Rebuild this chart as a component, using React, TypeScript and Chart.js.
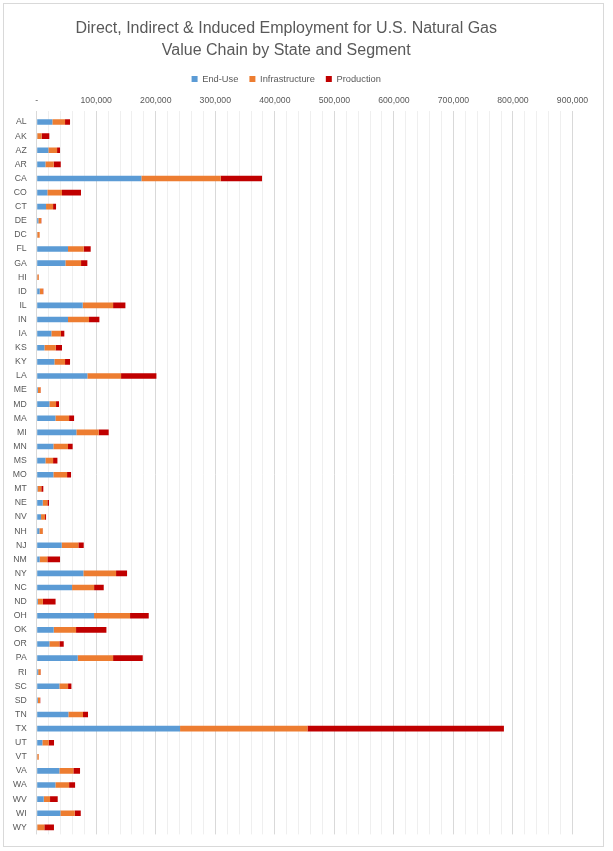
import React, { useEffect, useRef } from "react";
import { Chart, registerables } from "chart.js";

Chart.register(...registerables);

const states = ["AL","AK","AZ","AR","CA","CO","CT","DE","DC","FL","GA","HI","ID","IL","IN","IA","KS","KY","LA","ME","MD","MA","MI","MN","MS","MO","MT","NE","NV","NH","NJ","NM","NY","NC","ND","OH","OK","OR","PA","RI","SC","SD","TN","TX","UT","VT","VA","WA","WV","WI","WY"];

const endUse = [26300,1000,19600,14600,175800,17900,15700,2800,1000,52600,48200,1000,5000,77300,52600,24600,12900,29700,85100,2000,21300,31400,66600,28000,14600,28000,1500,10100,7300,4500,42000,5000,78400,59400,2000,96300,28600,21300,68900,2500,38100,2000,53200,240800,9500,1000,38100,31400,11800,39800,1000];

const infrastructure = [21300,7300,14600,14000,133300,24600,11800,4500,4000,26300,26300,2500,5600,51000,35300,16200,19000,17900,56600,4500,11200,23000,37500,24600,12900,23000,6200,7800,6700,5600,28000,12900,54900,37000,8400,60500,37500,16800,59400,4000,14600,3500,24600,214000,10600,2500,23500,23000,10600,24100,11800];

const production = [8400,12900,5000,11800,69400,31900,5000,500,0,11800,10600,300,500,20700,17400,5600,10600,8400,59400,500,5000,8400,16800,7800,7300,6700,3400,2800,1700,500,9000,21300,18500,16200,21300,31400,51000,7300,49800,500,5600,500,8400,330000,9000,0,11200,10100,12900,10100,16200];

const titleLines = ["Direct, Indirect & Induced Employment for U.S. Natural Gas", "Value Chain by State and Segment"];
const seriesNames = ["End-Use", "Infrastructure", "Production"];
const seriesColors = ["#5B9BD5", "#ED7D31", "#C00000"];

const FONT = "'Liberation Sans', Arial, sans-serif";
const TEXT = "#595959";

const borderPlugin = {
  id: "outerBorder",
  afterDraw(chart: any) {
    const ctx = chart.ctx;
    ctx.save();
    ctx.strokeStyle = "#d9d9d9";
    ctx.lineWidth = 1;
    ctx.strokeRect(3.5, 3.5, 600, 843);
    ctx.restore();
  },
  beforeDraw(chart: any) {
    const ctx = chart.ctx;
    ctx.save();
    ctx.fillStyle = "#ffffff";
    ctx.fillRect(0, 0, chart.width, chart.height);
    ctx.restore();
  },
};

export default function App() {
  const ref = useRef<HTMLCanvasElement>(null);
  useEffect(() => {
    document.body.style.margin = "0";
    const series = [endUse, infrastructure, production];
    const chart = new Chart(ref.current!, {
      type: "bar",
      data: {
        labels: states,
        datasets: series.map((d, i) => ({
          label: seriesNames[i],
          data: d,
          backgroundColor: seriesColors[i],
          borderWidth: 0,
          categoryPercentage: 0.8,
          barPercentage: 0.5,
        })),
      },
      options: {
        indexAxis: "y",
        responsive: false,
        animation: false,
        layout: { padding: { top: 10, bottom: 16.6, left: 0, right: 40.5 } },
        plugins: {
          title: {
            display: true,
            text: titleLines,
            color: TEXT,
            font: { family: FONT, size: 16, weight: "normal", lineHeight: 1.375 },
            padding: { top: 7.7, bottom: 1.65 },
          },
          legend: {
            display: true,
            position: "top",
            labels: {
              color: TEXT,
              font: { family: FONT, size: 9.3 },
              boxWidth: 6,
              boxHeight: 6,
              padding: 11,
            },
          },
          tooltip: { enabled: false },
        },
        scales: {
          x: {
            type: "linear",
            position: "top",
            stacked: true,
            min: 0,
            max: 900000,
            border: { display: false },
            grid: {
              drawTicks: true,
              tickLength: 4,
              color: (c: any) => (c.tick && c.tick.value % 100000 === 0 ? "#d9d9d9" : "#efefef"),
              lineWidth: 1,
            },
            ticks: {
              stepSize: 20000,
              autoSkip: false,
              maxRotation: 0,
              padding: 4.8,
              color: TEXT,
              font: { family: FONT, size: 8.7 },
              callback: (v: any) => {
                const n = Number(v);
                if (n % 100000 !== 0) return "";
                return n === 0 ? "-" : n.toLocaleString("en-US");
              },
            },
            afterFit: (s: any) => {
              s.height = 21.35;
            },
          },
          y: {
            stacked: true,
            border: { display: false },
            grid: { display: false, drawTicks: false },
            ticks: {
              padding: 10,
              color: TEXT,
              font: { family: FONT, size: 8.7 },
              autoSkip: false,
            },
            afterFit: (s: any) => {
              s.width = 36.7;
            },
          },
        },
      },
      plugins: [borderPlugin],
    });
    return () => chart.destroy();
  }, []);
  return (
    <div style={{ position: "absolute", left: 0, top: 0, width: 613, height: 851 }}>
      <canvas ref={ref} width={613} height={851} style={{ width: 613, height: 851, display: "block" }} />
    </div>
  );
}
